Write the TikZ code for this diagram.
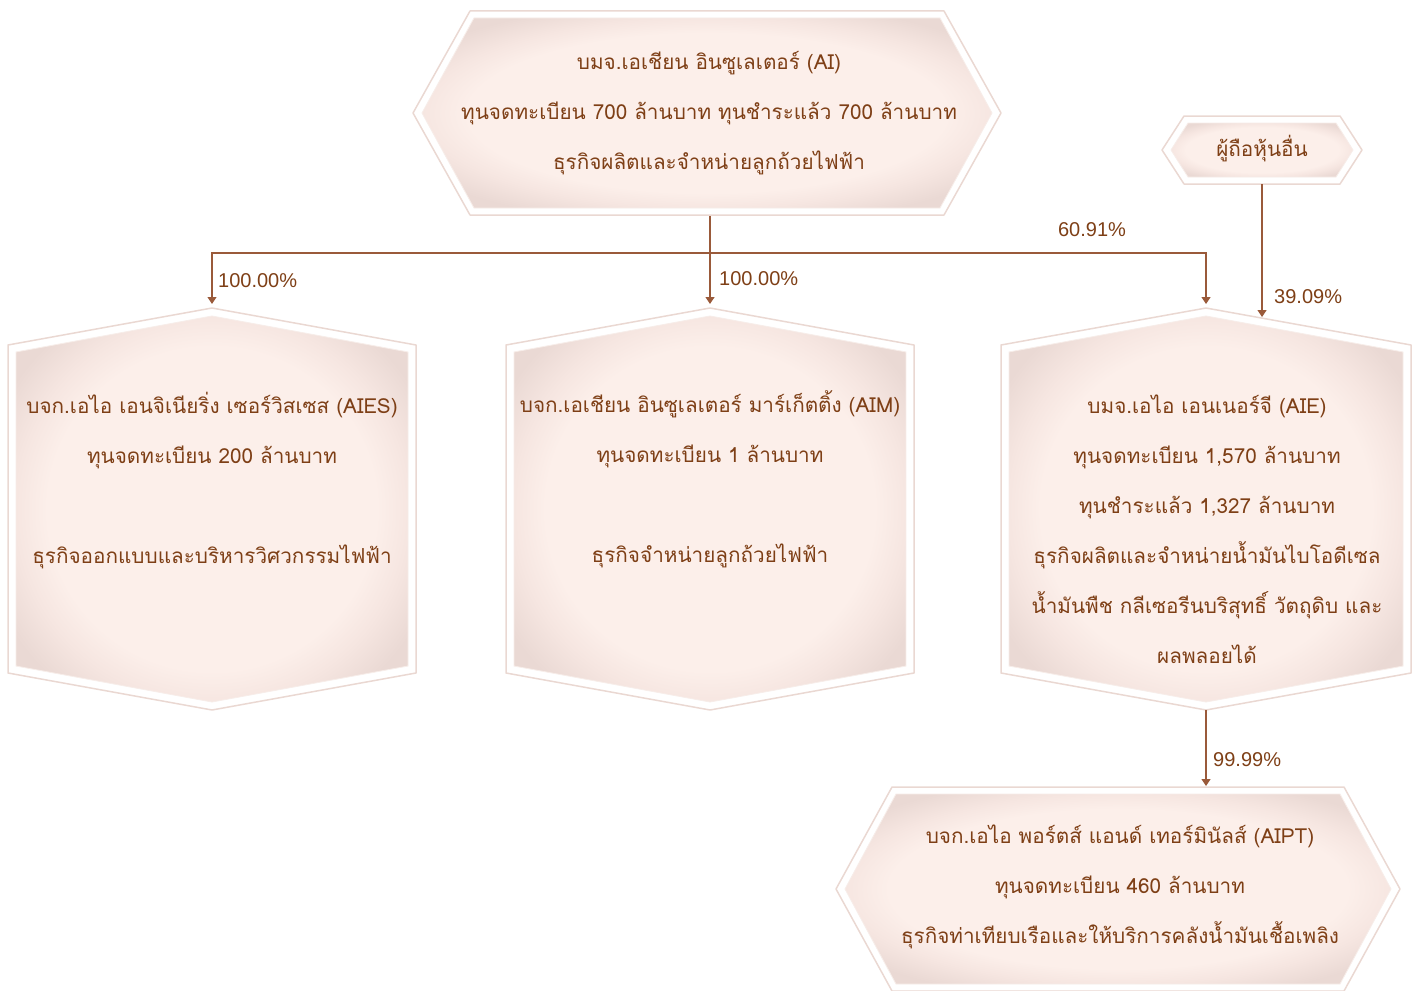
\documentclass[tikz,border=0pt]{standalone}
\usepackage{fontspec}
\setmainfont{Liberation Sans}
\newfontfamily\thai[Script=Thai]{Loma}
\usetikzlibrary{arrows.meta}
\definecolor{txt}{HTML}{7E3F16}
\definecolor{ln}{HTML}{9A5A3A}
\definecolor{bxin}{HTML}{FCEFEA}
\definecolor{bxmid}{HTML}{F6E6E1}
\definecolor{bxout}{HTML}{EAD9D4}
\definecolor{bxline}{HTML}{EAD8D2}
\definecolor{bxinline}{HTML}{F7EDE9}
\pgfdeclareradialshading{boxshade}{\pgfpoint{0bp}{0bp}}{color(0bp)=(bxin); color(21bp)=(bxin); color(25bp)=(bxmid); color(30bp)=(bxout); color(50bp)=(bxout)}
\tikzset{
  outerhex/.style={fill=white, draw=bxline, line width=1.5pt, line join=round},
  innerhex/.style={shading=boxshade, draw=bxinline, line width=0.8pt},
  boxtext/.style={font=\thai\fontsize{20.7}{50}\selectfont, text=txt, align=center, inner sep=0pt},
  pct/.style={font=\fontsize{20}{22}\selectfont, text=txt, inner sep=0pt},
  conn/.style={draw=ln, line width=1.2pt},
  arr/.style={conn, -{Triangle[width=9pt,length=7pt]}}
}
% horizontal hexagon: cx cy w d h
\newcommand\hexh[5]{%
  \path[outerhex] ({#1-#3},#2) -- ({#1-#3+#4},{#2-#5}) -- ({#1+#3-#4},{#2-#5}) -- ({#1+#3},#2) -- ({#1+#3-#4},{#2+#5}) -- ({#1-#3+#4},{#2+#5}) -- cycle;
  \path[innerhex] ({#1-#3+9},#2) -- ({#1-#3+#4+4},{#2-#5+7}) -- ({#1+#3-#4-4},{#2-#5+7}) -- ({#1+#3-9},#2) -- ({#1+#3-#4-4},{#2+#5-7}) -- ({#1-#3+#4+4},{#2+#5-7}) -- cycle;
}
% vertical hexagon: cx cy w d h
\newcommand\hexv[5]{%
  \path[outerhex] (#1,{#2-#5}) -- ({#1+#3},{#2-#5+#4}) -- ({#1+#3},{#2+#5-#4}) -- (#1,{#2+#5}) -- ({#1-#3},{#2+#5-#4}) -- ({#1-#3},{#2-#5+#4}) -- cycle;
  \path[innerhex] (#1,{#2-#5+8}) -- ({#1+#3-8},{#2-#5+#4+7}) -- ({#1+#3-8},{#2+#5-#4-7}) -- (#1,{#2+#5-8}) -- ({#1-#3+8},{#2+#5-#4-7}) -- ({#1-#3+8},{#2-#5+#4+7}) -- cycle;
}
\begin{document}
\begin{tikzpicture}[x=1pt,y=-1pt]
\useasboundingbox (0,0) rectangle (1418,990);
\begin{scope}
\clip (0,0) rectangle (1418,990);
% shapes
\hexh{707}{113}{294}{57}{102}
\hexh{1262}{150}{100}{22}{34}
\hexv{212}{509}{204}{37}{201}
\hexv{710}{509}{204}{37}{201}
\hexv{1206}{509}{205}{37}{201}
\hexh{1118}{889}{282}{56}{102}
\end{scope}
% texts
\node[boxtext] (ai) at (709,113) {บมจ.เอเชียน อินซูเลเตอร์ (AI)\\ทุนจดทะเบียน 700 ล้านบาท ทุนชำระแล้ว 700 ล้านบาท\\ธุรกิจผลิตและจำหน่ายลูกถ้วยไฟฟ้า};
\node[boxtext] (oth) at (1262,149) {ผู้ถือหุ้นอื่น};
\node[boxtext] (aies) at (212,481) {บจก.เอไอ เอนจิเนียริ่ง เซอร์วิสเซส (AIES)\\ทุนจดทะเบียน 200 ล้านบาท\\[50pt]ธุรกิจออกแบบและบริหารวิศวกรรมไฟฟ้า};
\node[boxtext] (aim) at (710,479) {บจก.เอเชียน อินซูเลเตอร์ มาร์เก็ตติ้ง (AIM)\\ทุนจดทะเบียน 1 ล้านบาท\\[50pt]ธุรกิจจำหน่ายลูกถ้วยไฟฟ้า};
\node[boxtext] (aie) at (1207,529) {บมจ.เอไอ เอนเนอร์จี (AIE)\\ทุนจดทะเบียน 1,570 ล้านบาท\\ทุนชำระแล้ว 1,327 ล้านบาท\\ธุรกิจผลิตและจำหน่ายน้ำมันไบโอดีเซล\\น้ำมันพืช กลีเซอรีนบริสุทธิ์ วัตถุดิบ และ\\ผลพลอยได้};
\node[boxtext] (aipt) at (1120,887) {บจก.เอไอ พอร์ตส์ แอนด์ เทอร์มินัลส์ (AIPT)\\ทุนจดทะเบียน 460 ล้านบาท\\ธุรกิจท่าเทียบเรือและให้บริการคลังน้ำมันเชื้อเพลิง};
% connector points
\coordinate (ai-s) at (710,216);
\coordinate (bus) at (710,253);
\coordinate (aies-n) at (212,304);
\coordinate (aim-n) at (710,304);
\coordinate (aie-n) at (1206,304);
\coordinate (oth-s) at (1262,184);
\coordinate (aie-ne) at (1262,317);
\coordinate (aie-s) at (1206,710);
\coordinate (aipt-n) at (1206,786);
% connectors
\draw[arr] (ai-s) -- (aim-n);
\draw[arr] (bus) -| (aies-n);
\draw[arr] (bus) -| (aie-n);
\draw[arr] (oth-s) -- (aie-ne);
\draw[arr] (aie-s) -- (aipt-n);
% labels
\node[pct, anchor=west] (l1) at (218,281) {100.00\%};
\node[pct, anchor=west] (l2) at (719,279) {100.00\%};
\node[pct] (l3) at (1092,230) {60.91\%};
\node[pct, anchor=west] (l4) at (1274,297) {39.09\%};
\node[pct, anchor=west] (l5) at (1213,760) {99.99\%};
\end{tikzpicture}
\end{document}
